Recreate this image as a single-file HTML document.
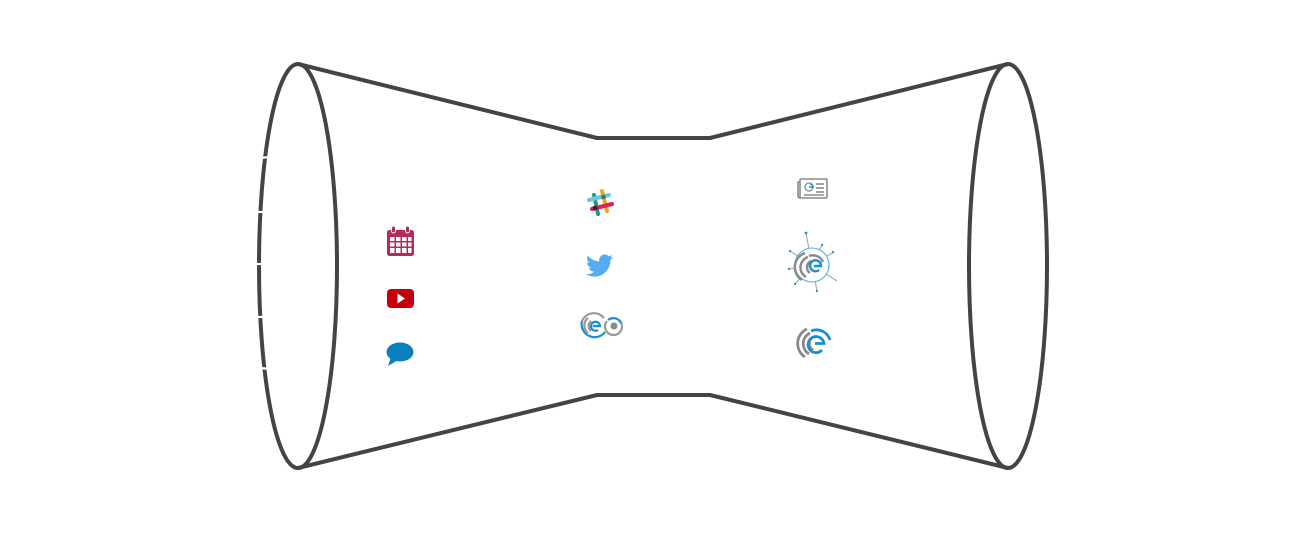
<!DOCTYPE html>
<html>
<head>
<meta charset="utf-8">
<style>
html,body{margin:0;padding:0;background:#fff;}
svg{display:block;}
</style>
</head>
<body>
<svg width="1307" height="542" viewBox="0 0 1307 542" xmlns="http://www.w3.org/2000/svg">
  <rect width="1307" height="542" fill="#fff"/>
  <g fill="none" stroke="#444" stroke-width="4" stroke-linejoin="round" stroke-linecap="round">
    <ellipse cx="298" cy="266" rx="39" ry="202"/>
    <ellipse cx="1008" cy="266" rx="39" ry="202"/>
    <polyline points="298,64 597,138 710,138 1008,64"/>
    <polyline points="298,468 597,395 710,395 1008,468"/>
  </g>
  <!-- small gaps on left ellipse -->
  <g stroke="#fff" stroke-width="2.2">
    <line x1="261" y1="158" x2="269" y2="157"/>
    <line x1="256" y1="212" x2="264" y2="212"/>
    <line x1="255" y1="264" x2="263" y2="264"/>
    <line x1="256" y1="317" x2="264" y2="317"/>
    <line x1="261" y1="368" x2="269" y2="369"/>
  </g>

  <!-- Calendar -->
  <g>
    <rect x="387" y="230" width="27" height="26" rx="2.5" fill="#b8285a"/>
    <g fill="#fff">
      <rect x="390" y="237" width="4.5" height="4" />
      <rect x="396" y="237" width="4.5" height="4" />
      <rect x="402" y="237" width="4.5" height="4" />
      <rect x="408" y="237" width="3.5" height="4" />
      <rect x="390" y="242.5" width="4.5" height="4" />
      <rect x="396" y="242.5" width="4.5" height="4" />
      <rect x="402" y="242.5" width="4.5" height="4" />
      <rect x="408" y="242.5" width="3.5" height="4" />
      <rect x="390" y="248" width="4.5" height="5" />
      <rect x="396" y="248" width="4.5" height="5" />
      <rect x="402" y="248" width="4.5" height="5" />
      <rect x="408" y="248" width="3.5" height="5" />
    </g>
    <rect x="391.5" y="226" width="4" height="7" rx="2" fill="#b8285a" stroke="#fff" stroke-width="1"/>
    <rect x="405.5" y="226" width="4" height="7" rx="2" fill="#b8285a" stroke="#fff" stroke-width="1"/>
  </g>

  <!-- YouTube -->
  <rect x="387" y="289" width="27" height="19" rx="4" fill="#c4000b"/>
  <polygon points="397.5,293.5 397.5,303.5 405,298.5" fill="#fff"/>

  <!-- Chat bubble -->
  <ellipse cx="400" cy="352" rx="13.5" ry="9.5" fill="#0a80c0"/>
  <polygon points="391,357 388,366 398,360" fill="#0a80c0"/>

  <!-- Slack -->
  <g stroke-linecap="round" stroke-width="4">
    <line x1="594" y1="195" x2="598" y2="214" stroke="#1a9e78"/>
    <line x1="602" y1="191" x2="607" y2="211" stroke="#e9a820"/>
    <line x1="589" y1="200" x2="609" y2="195" stroke="#6ec6e6"/>
    <line x1="592" y1="209" x2="612" y2="204" stroke="#e01e5a"/>
  </g>
  <rect x="593" y="206" width="4" height="4" fill="#3a1535" transform="rotate(-13 595 208)"/>
  <rect x="601.5" y="195" width="4" height="4" fill="#4d7a3a" transform="rotate(-13 603 197)"/>

  <!-- Twitter -->
  <path transform="translate(586,252) scale(1.13)" fill="#55acee" d="M23.954 4.569c-.885.389-1.830.654-2.825.775 1.014-.611 1.794-1.574 2.163-2.723-.951.555-2.005.959-3.127 1.184-.896-.959-2.173-1.559-3.591-1.559-2.717 0-4.920 2.203-4.920 4.917 0 .39.045.765.127 1.124C7.691 8.094 4.066 6.130 1.640 3.161c-.427.722-.666 1.561-.666 2.475 0 1.710.870 3.213 2.188 4.096-.807-.026-1.566-.248-2.228-.616v.061c0 2.385 1.693 4.374 3.946 4.827-.413.111-.849.171-1.296.171-.314 0-.615-.030-.916-.086.631 1.953 2.445 3.377 4.604 3.417-1.680 1.319-3.809 2.105-6.102 2.105-.39 0-.779-.023-1.170-.067 2.189 1.394 4.768 2.209 7.557 2.209 9.054 0 13.999-7.496 13.999-13.986 0-.209 0-.420-.015-.630.961-.689 1.800-1.560 2.460-2.548l-.047-.020z"/>

  <!-- CE logo pair -->
  <g fill="none" stroke-width="2.2">
    <path d="M 582 321 A 13 13 0 0 1 604 318" stroke="#9a9a9a"/>
    <path d="M 582 321 A 13 13 0 0 0 605 332" stroke="#1a8fd0"/>
    <path d="M 588 333 A 9.5 9.5 0 0 1 588 318" stroke="#9a9a9a"/>
    <path d="M 591 331 A 6.5 6.5 0 0 1 591 321" stroke="#9a9a9a"/>
    <path d="M 593 326 L 600 326 A 4.5 4.5 0 1 0 598 330" stroke="#1a8fd0"/>
    <path d="M 607 321 A 8.5 8.5 0 1 0 620 321" stroke="#9a9a9a"/>
    <path d="M 608 320 A 8.5 8.5 0 0 1 621 323" stroke="#1a8fd0"/>
  </g>
  <circle cx="614" cy="326" r="3.5" fill="#8a8a8a"/>

  <!-- Newspaper -->
  <g fill="none" stroke="#8a8a8a" stroke-width="1.6">
    <rect x="800" y="179" width="27" height="19" rx="1"/>
    <path d="M 800 182 L 798 182 L 798 196 A 2 2 0 0 0 800 198"/>
    <line x1="816" y1="184" x2="824" y2="184"/>
    <line x1="816" y1="188" x2="824" y2="188"/>
    <line x1="816" y1="192" x2="824" y2="192"/>
    <line x1="804" y1="195" x2="824" y2="195"/>
  </g>
  <circle cx="809" cy="187" r="4" fill="none" stroke="#8a8a8a" stroke-width="1.3"/>
  <path d="M 809 187 L 813 187 A 3 3 0 0 0 810 184" fill="none" stroke="#1a8fd0" stroke-width="1.5"/>

  <!-- Burst icon -->
  <g stroke="#a8a8a8" stroke-width="1.1">
    <line x1="812" y1="265" x2="806" y2="233"/>
    <line x1="812" y1="265" x2="822" y2="245"/>
    <line x1="812" y1="265" x2="834" y2="252"/>
    <line x1="812" y1="265" x2="790" y2="251"/>
    <line x1="812" y1="265" x2="789" y2="269"/>
    <line x1="812" y1="265" x2="795" y2="284"/>
    <line x1="812" y1="265" x2="817" y2="291"/>
    <line x1="812" y1="265" x2="837" y2="281"/>
  </g>
  <g fill="#1a8fd0">
    <circle cx="806" cy="233" r="1.4"/>
    <circle cx="822" cy="245" r="1.1"/>
    <circle cx="833" cy="252" r="1.1"/>
    <circle cx="790" cy="251" r="1.1"/>
    <circle cx="789" cy="269" r="1.1"/>
    <circle cx="795" cy="284" r="1.1"/>
    <circle cx="817" cy="291" r="1.1"/>
  </g>
  <circle cx="812" cy="265" r="17" fill="#fff" fill-opacity="0.85" stroke="#5aaee0" stroke-width="1.1"/>
  <g fill="none" stroke-width="2.4">
    <path d="M 806 277 A 11 11 0 0 1 808 257" stroke="#8a8a8a"/>
    <path d="M 802 280 A 15 15 0 0 1 805 253" stroke="#8a8a8a"/>
    <path d="M 810 273 A 7 7 0 0 1 811 261" stroke="#8a8a8a"/>
    <path d="M 814 266 L 821 266 A 5.5 5.5 0 1 0 819 270" stroke="#1a8fd0"/>
    <path d="M 809 256 A 11 11 0 0 1 823 262" stroke="#8a8a8a"/>
  </g>

  <!-- Bottom CE logo -->
  <g fill="none" stroke-width="2.8">
    <path d="M 805 357 A 16 16 0 0 1 807 329" stroke="#8a8a8a"/>
    <path d="M 809 354 A 12 12 0 0 1 810 333" stroke="#8a8a8a"/>
    <path d="M 813 350 A 7.5 7.5 0 0 1 813 337" stroke="#8a8a8a"/>
    <path d="M 815 343.5 L 824 343.5 A 8 8 0 1 0 822 350" stroke="#1a8fd0"/>
    <path d="M 811 331 A 14 14 0 0 1 830 340" stroke="#1a8fd0"/>
  </g>
</svg>
</body>
</html>
